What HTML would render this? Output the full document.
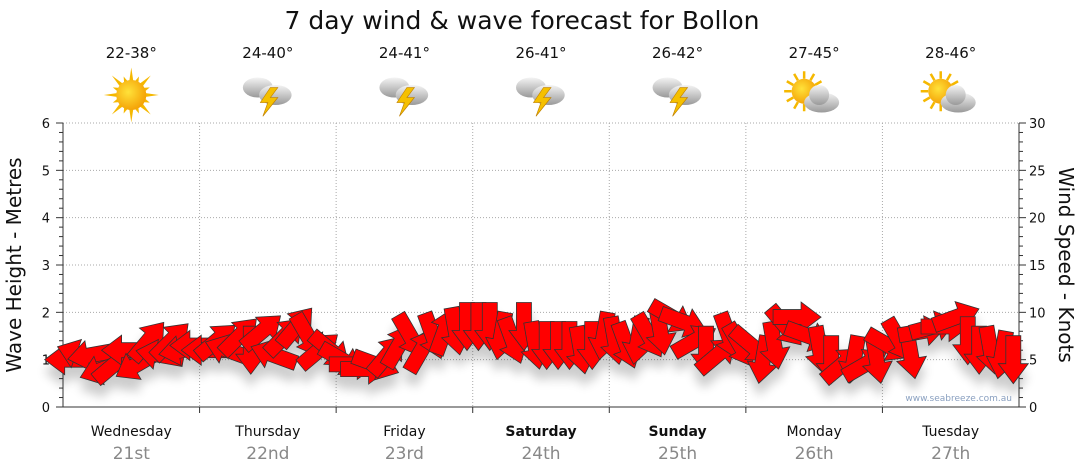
<!DOCTYPE html>
<html><head><meta charset="utf-8"><style>
body{margin:0;background:#fff;font-family:"DejaVu Sans","Liberation Sans",sans-serif}
svg{display:block}
</style></head><body>
<svg id="c" width="1080" height="475" xmlns="http://www.w3.org/2000/svg">
<defs>
<radialGradient id="sunG" cx="0.4" cy="0.4" r="0.7"><stop offset="0" stop-color="#ffe23a"/><stop offset="1" stop-color="#f39a00"/></radialGradient>
<linearGradient id="cloudG" x1="0" y1="0" x2="0" y2="1"><stop offset="0" stop-color="#f4f4f4"/><stop offset="1" stop-color="#9a9a9a"/></linearGradient>
<filter id="sh" x="-20%" y="-20%" width="140%" height="170%"><feGaussianBlur in="SourceAlpha" stdDeviation="5"/><feOffset dx="0" dy="12"/><feComponentTransfer><feFuncA type="linear" slope="0.2"/></feComponentTransfer><feMerge><feMergeNode/><feMergeNode in="SourceGraphic"/></feMerge></filter>
</defs>
<text x="522" y="29" font-size="25" text-anchor="middle" fill="#111">7 day wind &amp; wave forecast for Bollon</text>
<g id="hdr"></g>
<g id="grid"></g>
<g id="axes"></g>
<g id="arrows" filter="url(#sh)"></g>
<text x="1012" y="401" font-size="9" text-anchor="end" fill="#8aa0c0">www.seabreeze.com.au</text>
<text transform="translate(21,265) rotate(-90)" font-size="20" text-anchor="middle" fill="#111">Wave Height - Metres</text>
<text transform="translate(1059,265) rotate(90)" font-size="20" text-anchor="middle" fill="#111">Wind Speed - Knots</text>
</svg>
<script>
const days=["Wednesday","Thursday","Friday","Saturday","Sunday","Monday","Tuesday"];
const dates=["21st","22nd","23rd","24th","25th","26th","27th"];
const temps=["22-38°","24-40°","24-41°","26-41°","26-42°","27-45°","28-46°"];
const icons=["sun","storm","storm","storm","storm","partly","partly"];
const waveTicks=[0,1,2,3,4,5,6];
const windTicks=[0,5,10,15,20,25,30];
const windSpeed=[5,5.5,5.5,4,4.5,6,4.5,7,5.5,7,6,6.5,
6,7,6,7.5,6,8,5.5,7.5,8.5,7.5,6,6,
5,4.5,4,4.5,5.5,6.5,7.5,6,7.5,8,8,8.5,
8.5,8.5,7.5,7,8.5,6.5,6.5,6.5,6.5,6,6.5,7.5,
7,6.5,7,7.5,8,9.5,9,7,6,5.5,7.5,6.5,
6.5,5,6.5,8.5,9.5,7.5,6,5,4.5,5,4.5,5,
6.5,7,5.5,8,8.5,8.5,9.5,7,6,6,5.5,5];
const windDir=[180,200,170,160,-40,180,150,-50,190,-45,170,180,
180,-40,200,-45,90,-40,200,-45,-50,60,-40,40,
30,0,0,20,-50,-60,60,-60,70,-70,80,90,
90,90,100,70,90,80,90,90,90,80,90,100,
80,70,100,60,80,30,20,-30,90,-40,70,60,
40,100,80,50,0,20,80,90,-40,100,-30,80,
30,60,80,-10,-15,0,-20,90,90,80,100,90];
const NS="http://www.w3.org/2000/svg";
const X0=63,X1=1019,Y0=407,Y1=123;
const dayW=(X1-X0)/7;
const xPos=i=>X0+(i+0.5)*(X1-X0)/windSpeed.length;
const yWave=v=>Y0-(Y0-Y1)*v/6;
const yWind=v=>Y0-(Y0-Y1)*v/30;
function mk(t,a,p){const e=document.createElementNS(NS,t);for(const k in a)e.setAttribute(k,a[k]);(p||document.getElementById('c')).appendChild(e);return e;}
const grid=document.getElementById('grid'),axes=document.getElementById('axes'),hdr=document.getElementById('hdr');
waveTicks.forEach(v=>{if(v>0){const l=mk('line',{x1:X0,x2:X1,y1:yWave(v),y2:yWave(v),stroke:'#aaa','stroke-dasharray':'1,2'},grid);

}
const t=mk('text',{x:X0-13,y:yWave(v)+5,'font-size':13,'text-anchor':'end',fill:'#111'},axes);t.textContent=v;

});
windTicks.forEach(v=>{const t=mk('text',{x:X1+10,y:yWind(v)+5,'font-size':13,fill:'#111'},axes);t.textContent=v;

});
for(let i=0;i<=30;i++){const yl=Y0-(Y0-Y1)*i/30;mk('line',{x1:X0-(i%5?4:7),x2:X0,y1:yl,y2:yl,stroke:'#333'},axes);mk('line',{x1:X1,x2:X1+(i%5?4:7),y1:yl,y2:yl,stroke:'#333'},axes);}
mk('line',{x1:X0,x2:X0,y1:Y1,y2:Y0,stroke:'#333'},axes);
mk('line',{x1:X1,x2:X1,y1:Y1,y2:Y0,stroke:'#333'},axes);
mk('line',{x1:X0,x2:X1,y1:Y0,y2:Y0,stroke:'#333'},axes);
days.forEach((d,i)=>{const cx=X0+dayW*(i+0.5);
if(i>0){const l=mk('line',{x1:X0+dayW*i,x2:X0+dayW*i,y1:Y1,y2:Y0,stroke:'#aaa','stroke-dasharray':'1,2'},grid);


mk('line',{x1:X0+dayW*i,x2:X0+dayW*i,y1:Y0,y2:Y0+6,stroke:'#333'},axes);}
const bold=(d==="Saturday"||d==="Sunday");
const t=mk('text',{x:cx,y:436,'font-size':14,'text-anchor':'middle',fill:'#111','font-weight':bold?'bold':'normal'},axes);t.textContent=d;


const t2=mk('text',{x:cx,y:459,'font-size':17,'text-anchor':'middle',fill:'#888'},axes);t2.textContent=dates[i];


const t3=mk('text',{x:cx,y:58,'font-size':15,'text-anchor':'middle',fill:'#111'},hdr);t3.textContent=temps[i];


const g=mk('g',{transform:`translate(${cx},95) scale(1.25)`},hdr);


if(icons[i]==='sun'){for(let k=0;k<16;k++){const a=k*Math.PI/8,r=k%2?16:22;mk('polygon',{points:`${Math.cos(a-0.15)*11},${Math.sin(a-0.15)*11} ${Math.cos(a)*r},${Math.sin(a)*r} ${Math.cos(a+0.15)*11},${Math.sin(a+0.15)*11}`,fill:'#f5b800'},g);}
mk('circle',{r:12,fill:'url(#sunG)'},g);}
else if(icons[i]==='partly'){for(let k=0;k<12;k++){const a=k*Math.PI/6;mk('line',{x1:-8+Math.cos(a)*10,y1:-3+Math.sin(a)*10,x2:-8+Math.cos(a)*16,y2:-3+Math.sin(a)*16,stroke:'#f5b800','stroke-width':2},g);}
mk('circle',{cx:-8,cy:-3,r:10,fill:'url(#sunG)'},g);
mk('ellipse',{cx:6,cy:6,rx:14,ry:8,fill:'url(#cloudG)'},g);mk('circle',{cx:4,cy:0,r:8,fill:'url(#cloudG)'},g);}
else{mk('ellipse',{cx:-8,cy:-6,rx:12,ry:8,fill:'url(#cloudG)'},g);mk('ellipse',{cx:6,cy:0,rx:13,ry:8,fill:'url(#cloudG)'},g);
mk('polygon',{points:'2,-6 -6,6 0,6 -4,17 8,2 2,2 8,-6',fill:'#f5c000',stroke:'#c08000','stroke-width':0.5},g);}
});
const ag=document.getElementById('arrows');
windSpeed.forEach((s,i)=>{const p=mk('polygon',{points:'-24,-7.5 4,-7.5 4,-15 24,0 4,15 4,7.5 -24,7.5',fill:'#ff0000',stroke:'#333','stroke-width':0.8,transform:`translate(${xPos(i)},${yWind(s)}) rotate(${windDir[i]})`},ag);

});
</script>
</body></html>
